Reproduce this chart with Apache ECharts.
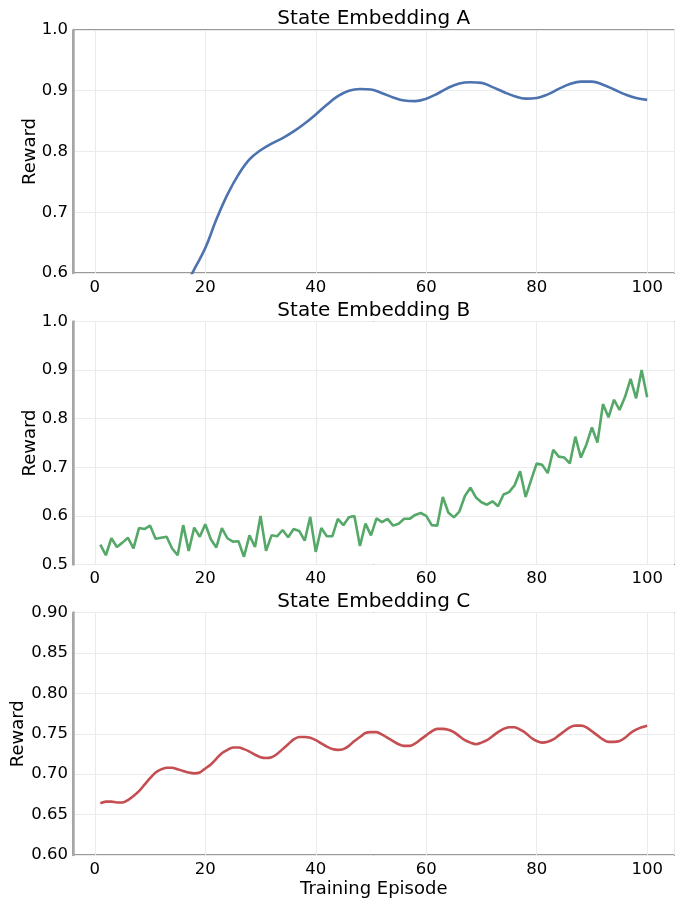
<!DOCTYPE html>
<html>
<head>
<meta charset="utf-8">
<script src="https://cdn.jsdelivr.net/npm/echarts@6/dist/echarts.min.js"></script>
<style>
html,body{margin:0;padding:0;background:#fff;}
#chart{width:676px;height:899px;}
</style>
</head>
<body>
<div id="chart"></div>
<script>
// ---- data ----
var titles = ['State Embedding A', 'State Embedding B', 'State Embedding C'];
var xTicks = [0, 20, 40, 60, 80, 100];

var episodesA = [14,16,18,20,22,24,26,28,30,32,34,36,38,40,42,44,46,48,50,52,54,56,58,60,62,64,66,68,70,72,74,76,78,80,82,84,86,88,90,92,94,96,98,100];
var rewardA = [0.548,0.572,0.606,0.641,0.688,0.729,0.762,0.787,0.802,0.813,0.822,0.833,0.846,0.861,0.877,0.891,0.900,0.903,0.902,0.896,0.889,0.884,0.883,0.887,0.895,0.905,0.912,0.914,0.913,0.906,0.898,0.891,0.887,0.888,0.894,0.903,0.911,0.915,0.915,0.910,0.902,0.894,0.888,0.885];

var episodes = [1,2,3,4,5,6,7,8,9,10,11,12,13,14,15,16,17,18,19,20,21,22,23,24,25,26,27,28,29,30,31,32,33,34,35,36,37,38,39,40,41,42,43,44,45,46,47,48,49,50,51,52,53,54,55,56,57,58,59,60,61,62,63,64,65,66,67,68,69,70,71,72,73,74,75,76,77,78,79,80,81,82,83,84,85,86,87,88,89,90,91,92,93,94,95,96,97,98,99,100];

var rewardB = [0.541,0.519,0.554,0.536,0.545,0.555,0.533,0.575,0.573,0.580,
0.553,0.555,0.557,0.533,0.519,0.581,0.528,0.576,0.557,0.583,
0.552,0.535,0.575,0.554,0.547,0.548,0.516,0.560,0.536,0.600,
0.528,0.560,0.558,0.571,0.556,0.573,0.569,0.549,0.598,0.526,
0.575,0.558,0.558,0.594,0.581,0.597,0.600,0.538,0.584,0.560,
0.595,0.587,0.594,0.580,0.584,0.594,0.594,0.602,0.606,0.600,
0.581,0.580,0.639,0.607,0.597,0.609,0.641,0.658,0.638,0.628,
0.623,0.630,0.620,0.644,0.649,0.663,0.692,0.639,0.674,0.708,
0.705,0.688,0.736,0.722,0.720,0.708,0.763,0.720,0.747,0.782,
0.751,0.830,0.803,0.839,0.818,0.845,0.882,0.842,0.900,0.844];

var rewardC = [0.664,0.666,0.666,0.665,0.665,0.668,0.673,0.679,0.687,0.695,
0.702,0.706,0.708,0.708,0.706,0.704,0.702,0.701,0.702,0.707,
0.712,0.719,0.726,0.730,0.733,0.733,0.731,0.728,0.724,0.721,
0.720,0.721,0.725,0.731,0.737,0.743,0.746,0.746,0.745,0.742,
0.738,0.734,0.731,0.730,0.731,0.735,0.741,0.746,0.751,0.752,
0.752,0.749,0.745,0.741,0.737,0.735,0.735,0.738,0.743,0.748,
0.753,0.756,0.756,0.755,0.752,0.747,0.742,0.739,0.737,0.739,
0.742,0.747,0.752,0.756,0.758,0.758,0.755,0.751,0.745,0.741,
0.739,0.740,0.743,0.748,0.753,0.758,0.760,0.760,0.758,0.753,
0.748,0.743,0.740,0.740,0.741,0.745,0.751,0.755,0.758,0.760];

var yRanges = [[0.6, 1.0, 0.1, 1], [0.5, 1.0, 0.1, 1], [0.6, 0.9, 0.05, 2]];
var colors = ['#4c72b0', '#55a868', '#c44e52'];

// ---- layout ----
var gridTops = [30, 321.5, 612.5];
var gridH = 243;
var gridLeft = 73;
var gridW = 601.5;
var nameGaps = [34, 34, 46];

function pairs(xs, ys) {
  var out = [];
  for (var i = 0; i < xs.length; i++) out.push([xs[i], ys[i]]);
  return out;
}
var seriesData = [pairs(episodesA, rewardA), pairs(episodes, rewardB), pairs(episodes, rewardC)];

var font = 'DejaVu Sans';
var txt = '#000000';
var option = {
  backgroundColor: '#ffffff',
  animation: false,
  title: [], grid: [], xAxis: [], yAxis: [], series: []
};

for (var k = 0; k < 3; k++) {
  option.title.push({
    text: titles[k],
    left: gridLeft + gridW / 2,
    top: gridTops[k] - 21,
    textAlign: 'center',
    padding: 0,
    textStyle: {fontFamily: font, fontSize: 20, fontWeight: 'normal', color: txt}
  });
  option.grid.push({
    left: gridLeft, top: gridTops[k], width: gridW, height: gridH,
    show: true, borderColor: '#333333', borderWidth: 1, backgroundColor: 'transparent',
    containLabel: false
  });
  option.xAxis.push({
    type: 'value', gridIndex: k,
    min: -3.95, max: 104.95, minInterval: 20, maxInterval: 20, splitNumber: 5,
    name: k === 2 ? 'Training Episode' : '',
    nameLocation: 'middle', nameGap: 25, nameMoveOverlap: false,
    nameTextStyle: {fontFamily: font, fontSize: 18, color: txt},
    axisLine: {show: true, onZero: false, lineStyle: {color: '#333333', width: 1}},
    axisTick: {show: false},
    axisLabel: {
      showMinLabel: false, showMaxLabel: false, margin: 6,
      fontFamily: font, fontSize: 16.5, color: txt,
      formatter: function (v) { return xTicks.indexOf(Math.round(v)) >= 0 && Math.abs(v - Math.round(v)) < 1e-6 ? String(Math.round(v)) : ''; }
    },
    splitLine: {show: true, lineStyle: {color: '#ebebeb', width: 1}}
  });
  (function (r) {
    option.yAxis.push({
      type: 'value', gridIndex: k,
      min: r[0], max: r[1], interval: r[2],
      z: 5,
      name: 'Reward', nameLocation: 'middle', nameGap: nameGaps[k], nameRotate: 90,
      nameMoveOverlap: false,
      nameTextStyle: {fontFamily: font, fontSize: 18, color: txt},
      axisLine: {show: true, onZero: false, lineStyle: {color: '#a8a8a8', width: 2.5}},
      axisTick: {show: false},
      axisLabel: {
        margin: 5, fontFamily: font, fontSize: 16.5, color: txt,
        formatter: function (v) { return v.toFixed(r[3]); }
      },
      splitLine: {show: true, lineStyle: {color: '#ebebeb', width: 1}}
    });
  })(yRanges[k]);
  option.series.push({
    type: 'line', xAxisIndex: k, yAxisIndex: k,
    data: seriesData[k],
    showSymbol: false, symbol: 'none',
    smooth: k === 0 ? 0.4 : (k === 2 ? 0.3 : false),
    clip: true, z: 10,
    lineStyle: {color: colors[k], width: 2.6},
    itemStyle: {color: colors[k]}
  });
}

var chart = echarts.init(document.getElementById('chart'), null, {renderer: 'canvas'});
chart.setOption(option);
</script>
</body>
</html>
